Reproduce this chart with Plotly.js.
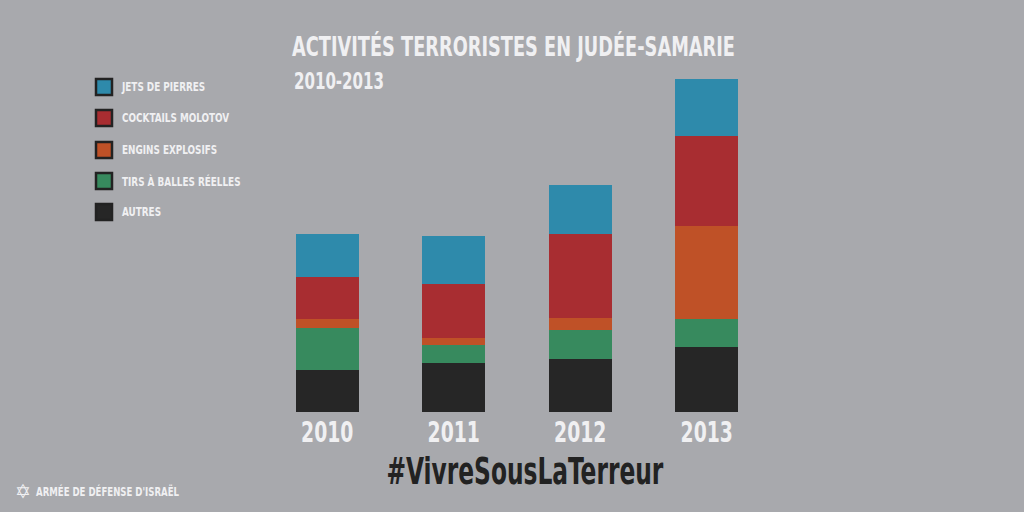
<!DOCTYPE html>
<html>
<head>
<meta charset="utf-8">
<script src="https://cdn.plot.ly/plotly-3.0.1.min.js"></script>
<style>
html,body{margin:0;padding:0;background:#a8a9ad;}
#chart{width:1024px;height:512px;}
</style>
</head>
<body>
<div id="chart"></div>
<script>
// ---- data ----
var years = ['2010', '2011', '2012', '2013'];
var seriesNames = ['JETS DE PIERRES', 'COCKTAILS MOLOTOV', 'ENGINS EXPLOSIFS', 'TIRS À BALLES RÉELLES', 'AUTRES'];
var jetsDePierres   = [43, 48, 49, 57];
var cocktails       = [42, 54, 84, 90];
var enginsExplosifs = [9, 7, 12, 93];
var tirsBalles      = [42, 18, 29, 28];
var autres          = [42, 49, 53, 65];
var seriesColors = ['#2e8aab', '#a82d31', '#bf5127', '#378a5e', '#262626'];

var W = 1024, H = 512;
var M = {l: 264, r: 254, t: 60, b: 100};
var plotW = W - M.l - M.r, plotH = H - M.t - M.b;
function px2x(px) { return (px - M.l) / plotW; }
function py2y(py) { return (H - M.b - py) / plotH; }

var FONT = 'DejaVu Sans Condensed, DejaVu Sans, sans-serif';
var TXT = '#f0f0f2';

// stacking order bottom -> top
var stack = [
  {name: seriesNames[4], y: autres, color: seriesColors[4]},
  {name: seriesNames[3], y: tirsBalles, color: seriesColors[3]},
  {name: seriesNames[2], y: enginsExplosifs, color: seriesColors[2]},
  {name: seriesNames[1], y: cocktails, color: seriesColors[1]},
  {name: seriesNames[0], y: jetsDePierres, color: seriesColors[0]}
];
var traces = stack.map(function (s) {
  return {type: 'bar', x: years, y: s.y, name: s.name,
          marker: {color: s.color, line: {width: 0}}, showlegend: false,
          hoverinfo: 'x+y+name'};
});

// custom legend
var shapes = [], annotations = [];
var legY = [87, 118, 150, 181, 212];
seriesNames.forEach(function (n, i) {
  shapes.push({type: 'rect', xref: 'paper', yref: 'paper',
    x0: px2x(96), x1: px2x(112), y0: py2y(legY[i] + 8), y1: py2y(legY[i] - 8),
    fillcolor: seriesColors[i], line: {color: '#222222', width: 2.5}});
  annotations.push({xref: 'paper', yref: 'paper', x: px2x(120), y: py2y(legY[i]),
    xanchor: 'left', yanchor: 'middle', showarrow: false, text: n,
    font: {family: FONT, size: 12, color: TXT, weight: 'bold'}});
});

annotations.push({xref: 'paper', yref: 'paper', x: px2x(292), y: py2y(81),
  xanchor: 'left', yanchor: 'middle', showarrow: false, text: '2010-2013',
  font: {family: FONT, size: 23, color: TXT, weight: 'bold'}});
annotations.push({xref: 'paper', yref: 'paper', x: px2x(525), y: py2y(471),
  xanchor: 'center', yanchor: 'middle', showarrow: false, text: '#VivreSousLaTerreur',
  font: {family: FONT, size: 38, color: '#222222', weight: 'bold'}});
annotations.push({xref: 'paper', yref: 'paper', x: px2x(13), y: py2y(491),
  xanchor: 'left', yanchor: 'middle', showarrow: false, text: '✡',
  font: {family: 'DejaVu Sans', size: 19, color: TXT}});
annotations.push({xref: 'paper', yref: 'paper', x: px2x(34), y: py2y(491),
  xanchor: 'left', yanchor: 'middle', showarrow: false, text: 'ARMÉE DE DÉFENSE D\'ISRAËL',
  font: {family: FONT, size: 13, color: TXT, weight: 'bold'}});

var layout = {
  width: W, height: H,
  margin: M,
  paper_bgcolor: '#a8a9ad', plot_bgcolor: '#a8a9ad',
  barmode: 'stack', bargap: 0.5,
  showlegend: false,
  title: {text: 'ACTIVITÉS TERRORISTES EN JUDÉE-SAMARIE', xref: 'container', yref: 'container',
          x: 292 / W, xanchor: 'left', y: 1 - 47 / H, yanchor: 'middle',
          font: {family: FONT, size: 26, color: TXT, weight: 'bold'}},
  xaxis: {type: 'category', range: [-0.5, 3.5], showgrid: false, zeroline: false,
          showline: false, ticks: '', ticklen: 0, ticklabelstandoff: 0,
          tickfont: {family: FONT, size: 29, color: TXT, weight: 'bold'}},
  yaxis: {range: [0, plotH], visible: false, showgrid: false, zeroline: false},
  shapes: shapes,
  annotations: annotations
};

// condensed look: narrow each text to the width of the reference lettering
function squeeze(el, k, keepLeft) {
  var len = el.getComputedTextLength();
  if (!len) return;
  if (keepLeft) {
    var bb = el.getBBox();
    el.setAttribute('text-anchor', 'start');
    el.style.textAnchor = 'start';
    el.setAttribute('x', bb.x);
  }
  el.setAttribute('textLength', (len * k).toFixed(2));
  el.setAttribute('lengthAdjust', 'spacingAndGlyphs');
}

Plotly.newPlot('chart', traces, layout, {displayModeBar: false, staticPlot: true}).then(function (gd) {
  var t = gd.querySelector('.gtitle');
  if (t) squeeze(t, 443 / t.getComputedTextLength(), true);
  gd.querySelectorAll('.xtick text').forEach(function (el) { squeeze(el, 0.72, false); });
  gd.querySelectorAll('.annotation-text').forEach(function (el) {
    var s = el.textContent;
    if (s === '#VivreSousLaTerreur') squeeze(el, 277 / el.getComputedTextLength(), false);
    else if (s === '2010-2013') squeeze(el, 90 / el.getComputedTextLength(), true);
    else if (s.indexOf('ARMÉE') === 0) squeeze(el, 143 / el.getComputedTextLength(), true);
    else if (s === '✡') {}
    else squeeze(el, 0.82, true);
  });
});
</script>
</body>
</html>
